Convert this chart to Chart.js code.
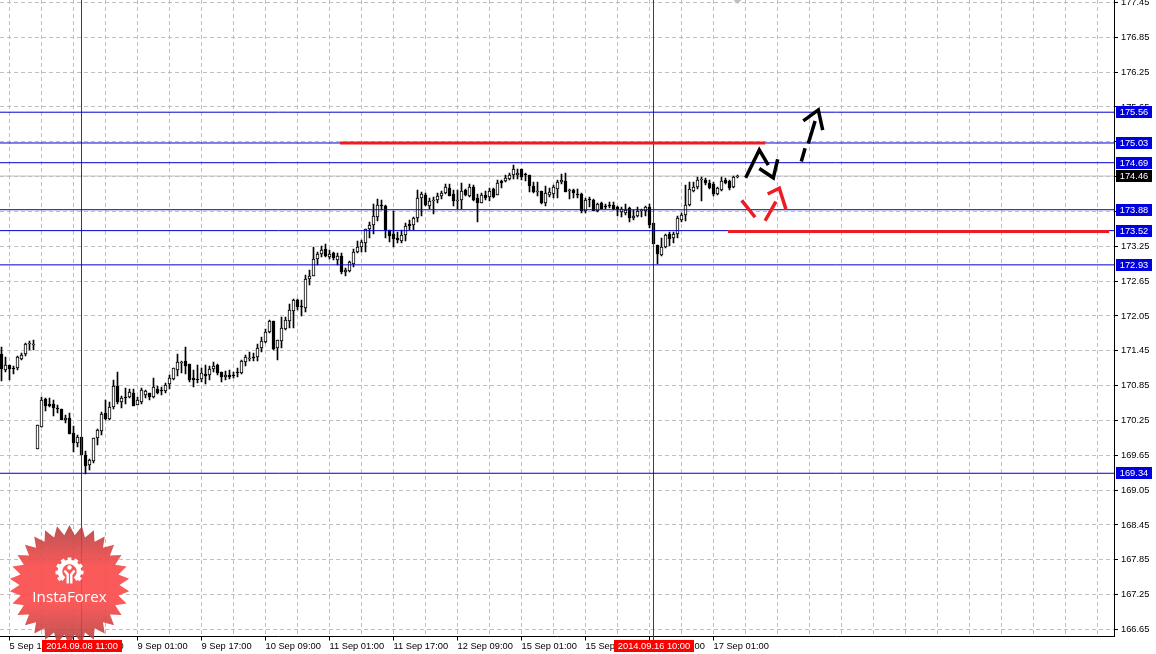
<!DOCTYPE html>
<html>
<head>
<meta charset="utf-8">
<title>GBP/JPY H1</title>
<script src="https://cdn.jsdelivr.net/npm/chart.js@4/dist/chart.umd.js"></script>
<style>
html, body { margin: 0; padding: 0; background: #fff; }
canvas { display: block; }
</style>
</head>
<body>
<canvas id="grafico" width="1156" height="654"></canvas>
<script>
// Hourly candles
const opens = [
171.40,171.12,171.21,171.16,171.15,171.31,171.39,171.57,171.56,169.75,
170.14,170.62,170.53,170.54,170.47,170.45,170.25,170.29,170.03,169.87,
169.97,169.66,169.49,169.55,169.94,170.06,170.37,170.28,170.48,170.84,
170.57,170.65,170.65,170.72,170.52,170.57,170.69,170.72,170.65,170.80,
170.77,170.76,170.87,170.96,171.12,171.25,171.27,171.22,170.98,170.96,
170.96,171.05,171.03,171.14,171.21,171.08,170.99,171.03,171.04,171.08,
171.06,171.26,171.31,171.35,171.35,171.50,171.60,171.78,171.96,171.50,
171.61,171.83,171.97,172.14,172.33,172.22,172.19,172.69,172.74,173.03,
173.12,173.20,173.07,173.13,173.02,173.08,172.80,172.83,172.95,173.15,
173.23,173.31,173.54,173.62,173.76,173.96,173.95,173.53,173.46,173.39,
173.34,173.45,173.63,173.62,173.74,174.08,174.14,173.95,174.04,174.05,
174.12,174.16,174.25,174.15,174.03,174.04,174.22,174.12,174.28,174.08,
174.00,174.13,174.10,174.23,174.14,174.37,174.37,174.41,174.47,174.47,
174.58,174.49,174.48,174.29,174.19,174.21,174.00,174.13,174.15,174.24,
174.35,174.37,174.21,174.22,174.15,174.15,173.86,174.06,174.05,173.86,
173.99,173.95,173.97,173.96,173.92,173.84,173.82,173.91,173.73,173.78,
173.86,173.86,173.92,173.65,173.28,173.10,173.23,173.46,173.40,173.46,
173.70,173.79,173.96,174.20,174.27,174.40,174.39,174.34,174.33,174.15,
174.22,174.39,174.37,174.27,174.44];
const highs = [
171.52,171.35,171.21,171.19,171.36,171.42,171.58,171.62,171.64,170.17,
170.65,170.63,170.63,170.60,170.52,170.45,170.34,170.38,170.15,170.00,
169.97,169.72,169.59,169.94,170.11,170.40,170.60,170.57,170.95,171.08,
170.67,170.81,170.80,170.80,170.66,170.81,170.77,170.72,170.98,170.84,
170.83,170.89,171.03,171.15,171.39,171.28,171.51,171.22,171.12,171.21,
171.15,171.21,171.18,171.25,171.23,171.08,171.11,171.12,171.09,171.16,
171.29,171.38,171.43,171.41,171.57,171.68,171.82,171.98,171.96,171.64,
172.04,172.04,172.26,172.35,172.34,172.33,172.76,172.84,173.23,173.16,
173.26,173.29,173.19,173.16,173.13,173.13,172.87,173.00,173.20,173.34,
173.35,173.54,173.67,173.98,174.06,174.05,173.96,173.53,173.85,173.50,
173.53,173.65,173.70,173.76,174.22,174.19,174.16,174.08,174.10,174.16,
174.21,174.32,174.32,174.22,174.22,174.34,174.24,174.32,174.31,174.15,
174.16,174.21,174.25,174.25,174.39,174.39,174.48,174.51,174.65,174.58,
174.58,174.52,174.48,174.36,174.36,174.21,174.29,174.25,174.31,174.39,
174.49,174.51,174.23,174.24,174.23,174.16,174.08,174.10,174.06,174.00,
174.02,173.98,174.01,174.01,173.94,173.92,173.98,173.92,173.88,173.92,
173.90,173.94,173.98,173.65,173.28,173.39,173.47,173.50,173.50,173.77,
173.82,174.31,174.36,174.36,174.44,174.45,174.43,174.39,174.36,174.28,
174.45,174.43,174.39,174.46,174.47];
const lows = [
170.93,171.09,170.95,171.05,171.12,171.29,171.36,171.47,171.46,169.75,
170.14,170.42,170.48,170.33,170.37,170.25,170.21,170.02,169.71,169.80,
169.66,169.32,169.40,169.52,169.83,170.00,170.26,170.26,170.44,170.54,
170.47,170.53,170.63,170.50,170.51,170.54,170.64,170.60,170.64,170.71,
170.69,170.73,170.80,170.94,171.02,171.06,171.05,170.91,170.83,170.89,
170.91,170.87,170.95,171.09,171.04,170.91,170.94,170.96,170.98,171.00,
171.05,171.19,171.27,171.27,171.28,171.43,171.58,171.75,171.46,171.29,
171.50,171.80,171.85,171.85,172.15,172.05,172.12,172.58,172.74,172.93,
173.06,173.06,173.03,173.01,172.93,172.77,172.74,172.81,172.90,173.14,
173.15,173.15,173.39,173.46,173.69,173.88,173.39,173.33,173.23,173.31,
173.31,173.34,173.53,173.53,173.67,173.78,173.94,173.90,173.81,174.00,
174.06,174.15,174.12,173.94,173.90,173.90,174.12,174.10,174.03,173.67,
173.99,174.05,174.03,174.08,174.13,174.25,174.36,174.39,174.41,174.41,
174.39,174.38,174.19,174.16,174.12,173.98,173.94,174.10,174.08,174.08,
174.32,174.18,174.07,174.08,174.08,173.82,173.82,173.93,173.85,173.84,
173.89,173.89,173.91,173.88,173.77,173.75,173.79,173.66,173.71,173.75,
173.76,173.77,173.56,173.29,172.94,173.08,173.22,173.25,173.31,173.39,
173.66,173.69,173.94,174.19,174.23,174.03,174.31,174.23,174.12,174.13,
174.21,174.32,174.22,174.26,174.43];
const closes = [
171.14,171.21,171.13,171.14,171.34,171.37,171.56,171.58,171.57,170.17,
170.60,170.50,170.50,170.47,170.44,170.25,170.29,170.02,169.87,169.97,
169.66,169.47,169.57,169.94,170.09,170.36,170.28,170.48,170.84,170.57,
170.63,170.63,170.74,170.50,170.60,170.77,170.75,170.65,170.82,170.73,
170.75,170.86,170.98,171.15,171.25,171.26,171.19,170.95,170.95,170.95,
171.06,171.02,171.13,171.18,171.07,171.00,171.03,171.00,171.02,171.06,
171.27,171.34,171.33,171.34,171.49,171.61,171.78,171.96,171.48,171.64,
171.84,171.98,172.15,172.33,172.21,172.20,172.69,172.74,173.03,173.12,
173.18,173.09,173.12,173.04,173.09,172.81,172.84,172.98,173.15,173.23,
173.32,173.54,173.61,173.77,173.96,173.94,173.53,173.43,173.37,173.35,
173.44,173.60,173.60,173.74,174.08,174.15,173.96,174.03,174.05,174.11,
174.16,174.27,174.12,174.03,174.04,174.21,174.13,174.27,174.05,173.99,
174.13,174.09,174.20,174.10,174.34,174.34,174.42,174.48,174.59,174.52,
174.45,174.47,174.29,174.19,174.20,173.99,174.17,174.19,174.27,174.36,
174.39,174.19,174.22,174.17,174.14,173.86,174.05,174.04,173.86,173.98,
173.90,173.92,173.94,173.89,173.88,173.89,173.88,173.73,173.77,173.86,
173.87,173.92,173.62,173.29,173.12,173.23,173.44,173.38,173.46,173.74,
173.79,173.97,174.23,174.27,174.40,174.41,174.34,174.26,174.15,174.25,
174.38,174.34,174.26,174.45,174.46];

// Price axis and time axis
const priceTicks = [177.45,176.85,176.25,175.65,175.05,174.45,173.85,173.25,172.65,172.05,171.45,170.85,170.25,169.65,169.05,168.45,167.85,167.25,166.65];
const timeLabels = ['5 Sep 17:00','8 Sep 09:00','9 Sep 01:00','9 Sep 17:00','10 Sep 09:00','11 Sep 01:00','11 Sep 17:00','12 Sep 09:00','15 Sep 01:00','15 Sep 17:00','16 Sep 09:00','17 Sep 01:00'];

// Horizontal levels
const blueLevels = [175.56,175.03,174.69,173.88,173.52,172.93,169.34];
const lastPrice = 174.46;

// Vertical crosshairs: candle number and its stamp
const crossCandles = [20,163];
const crossStamps = ['2014.09.08 11:00','2014.09.16 10:00'];

// Thick red levels: [from candle, to candle, price]
const redTop = [84.6,190.9,175.03];
const redBottom = [181.6,276.9,173.505];

// Hand drawn arrows, in candle number / price
const blackStrokes = [
  [[186.05,174.43],[189.45,174.91],[191.7,174.65]],
  [[189.45,174.59],[192.95,174.43],[194.05,174.75]],
  [[199.95,174.71],[200.9,174.94]],
  [[201.7,175.02],[203.4,175.41]],
  [[200.45,175.41],[204.2,175.60],[205.3,175.25]]
];
const redStrokes = [
  [[185.05,174.04],[188.4,173.75]],
  [[190.9,173.69],[193.6,174.02]],
  [[191.55,174.15],[194.45,174.25],[196.1,173.89]]
];

const FONTE = '9.3px "Liberation Sans"';
const AZUL = '#0000cd';
const AZUL_CAIXA = '#0000e0';
const VERMELHO = '#ed1c24';
const GRADE = '#c0c0c0';
const X_MIN = -0.375, X_MAX = 278.125;
const Y_MIN = 166.528, Y_MAX = 177.493;

function linha(pontos, cor, largura, extra) {
    return Object.assign({
        type: 'line',
        data: pontos.map(p => ({ x: p[0], y: p[1] })),
        borderColor: cor,
        borderWidth: largura,
        pointRadius: 0,
        tension: 0,
        fill: false,
        order: 1
    }, extra || {});
}

const datasets = [];

blackStrokes.forEach(s => datasets.push(linha(s, '#000', 3.5, { order: 0 })));
redStrokes.forEach(s => datasets.push(linha(s, VERMELHO, 3.5, { order: 0 })));
datasets.push(linha([[redTop[0], redTop[2]], [redTop[1], redTop[2]]], VERMELHO, 3, { order: 0 }));
datasets.push(linha([[redBottom[0], redBottom[2]], [redBottom[1], redBottom[2]]], VERMELHO, 3, { order: 0 }));
blueLevels.forEach(v => datasets.push(linha([[X_MIN, v], [X_MAX, v]], AZUL, 1)));
datasets.push(linha([[X_MIN, lastPrice], [X_MAX, lastPrice]], GRADE, 1, { order: 4 }));
crossCandles.forEach(c => datasets.push(linha([[c, Y_MAX], [c, 166.46]], '#d40000', 1, { clip: false })));

// wick and body of each candle
datasets.push({
    type: 'bar',
    data: opens.map((o, i) => ({ x: i, y: [lows[i], highs[i]] })),
    backgroundColor: '#000',
    borderWidth: 0,
    barThickness: 1,
    grouped: false,
    order: 3
});
datasets.push({
    type: 'bar',
    data: opens.map((o, i) => ({ x: i, y: [o, closes[i]] })),
    backgroundColor: opens.map((o, i) => closes[i] >= o ? '#fff' : '#000'),
    borderColor: '#000',
    borderWidth: 1,
    borderSkipped: false,
    barThickness: 3,
    grouped: false,
    order: 2
});

// MT4 draws on whole pixels
const pixelInteiro = {
    id: 'pixelInteiro',
    afterDatasetsUpdate(chart) {
        chart.data.datasets.forEach((ds, n) => {
            if (ds.type !== 'bar') return;
            chart.getDatasetMeta(n).data.forEach(el => {
                el.y = Math.round(el.y);
                el.base = Math.round(el.base);
                if (el.y === el.base) el.base = el.y + 1;
            });
        });
    }
};

function desenharSelo(ctx) {
    const cx = 69.5, cy = 585, rFora = 60, rDentro = 50, pontas = 30;
    ctx.save();
    const grad = ctx.createLinearGradient(0, cy - rFora, 0, cy + rFora);
    grad.addColorStop(0, 'rgba(178,60,60,0.88)');
    grad.addColorStop(0.35, 'rgba(250,72,72,0.9)');
    grad.addColorStop(0.65, 'rgba(250,72,72,0.9)');
    grad.addColorStop(1, 'rgba(178,60,60,0.88)');
    ctx.fillStyle = grad;
    ctx.beginPath();
    for (let i = 0; i < pontas * 2; i++) {
        const r = i % 2 === 0 ? rFora : rDentro;
        const a = i * Math.PI / pontas - Math.PI / 2;
        ctx.lineTo(cx + r * Math.cos(a), cy + r * Math.sin(a));
    }
    ctx.closePath();
    ctx.fill();

    // gear
    const gx = 69.5, gy = 571.5;
    ctx.strokeStyle = '#fff';
    ctx.fillStyle = '#fff';
    ctx.lineWidth = 4.5;
    ctx.beginPath();
    ctx.arc(gx, gy, 9.5, Math.PI * 0.7, Math.PI * 0.3);
    ctx.stroke();
    for (let i = 0; i < 9; i++) {
        const a = Math.PI * 0.8 + i * Math.PI * 1.4 / 8;
        ctx.save();
        ctx.translate(gx + 12 * Math.cos(a), gy + 12 * Math.sin(a));
        ctx.rotate(a);
        ctx.fillRect(-2, -1.9, 4, 3.8);
        ctx.restore();
    }
    ctx.beginPath();
    ctx.arc(gx, gy - 4, 2.2, 0, Math.PI * 2);
    ctx.fill();
    ctx.lineWidth = 2.4;
    ctx.beginPath();
    ctx.moveTo(gx - 5, gy - 1);
    ctx.lineTo(gx - 1.8, gy + 3);
    ctx.lineTo(gx - 1.8, gy + 12);
    ctx.moveTo(gx + 5, gy - 1);
    ctx.lineTo(gx + 1.8, gy + 3);
    ctx.lineTo(gx + 1.8, gy + 12);
    ctx.stroke();

    ctx.font = '15.2px "Open Sans"';
    ctx.textAlign = 'center';
    ctx.textBaseline = 'alphabetic';
    ctx.fillText('InstaForex', 69.5, 602);
    ctx.restore();
}

function caixa(ctx, x, y, w, h, cor, texto) {
    ctx.fillStyle = cor;
    ctx.fillRect(x, y, w, h);
    ctx.fillStyle = '#fff';
    ctx.font = FONTE;
    ctx.textAlign = 'center';
    ctx.textBaseline = 'middle';
    ctx.fillText(texto, x + w / 2, y + h / 2 + 0.5);
}

const extras = {
    id: 'extras',
    afterDraw(chart) {
        const ctx = chart.ctx;
        const escalaY = chart.scales.y, escalaX = chart.scales.x;
        desenharSelo(ctx);

        // little shift marker at the top
        ctx.fillStyle = GRADE;
        ctx.beginPath();
        ctx.moveTo(733.5, 0);
        ctx.lineTo(741.5, 0);
        ctx.lineTo(737.5, 4);
        ctx.closePath();
        ctx.fill();

        // price stamps
        blueLevels.forEach(v => {
            const y = Math.round(escalaY.getPixelForValue(v));
            caixa(ctx, 1116, y - 6, 36, 12, AZUL_CAIXA, v.toFixed(2));
        });
        const yUltimo = Math.round(escalaY.getPixelForValue(lastPrice));
        caixa(ctx, 1116, yUltimo - 6, 36, 12, '#000', lastPrice.toFixed(2));

        // time stamps
        crossCandles.forEach((c, i) => {
            const x = Math.round(escalaX.getPixelForValue(c));
            caixa(ctx, x - 40, 640, 80, 12, '#ff0000', crossStamps[i]);
        });
    }
};

new Chart(document.getElementById('grafico').getContext('2d'), {
    type: 'bar',
    data: { datasets },
    plugins: [pixelInteiro, extras],
    options: {
        responsive: false,
        animation: false,
        devicePixelRatio: 1,
        layout: { padding: 0 },
        plugins: { legend: { display: false }, tooltip: { enabled: false } },
        scales: {
            x: {
                type: 'linear',
                offset: false,
                min: X_MIN,
                max: X_MAX,
                afterBuildTicks(scale) {
                    const t = [];
                    for (let v = 2; v < X_MAX; v += 8) t.push({ value: v });
                    scale.ticks = t;
                },
                afterFit(scale) {
                    scale.height = 654 - 636.5;
                    scale.paddingLeft = 0;
                    scale.paddingRight = 0;
                },
                grid: {
                    offset: false,
                    color: GRADE,
                    lineWidth: 1,
                    tickLength: 4,
                    tickColor: c => (c.index % 2 === 0 && c.index / 2 < timeLabels.length) ? '#000' : 'rgba(0,0,0,0)',
                    tickBorderDash: []
                },
                border: { display: true, color: '#000', width: 1, dash: [4, 3] },
                ticks: {
                    autoSkip: false,
                    maxRotation: 0,
                    minRotation: 0,
                    align: 'start',
                    padding: 0,
                    color: '#000',
                    font: { family: 'Liberation Sans', size: 9.3 },
                    callback: (v, i) => (i % 2 === 0 && timeLabels[i / 2]) || ''
                }
            },
            y: {
                type: 'linear',
                position: 'right',
                min: Y_MIN,
                max: Y_MAX,
                beginAtZero: false,
                afterBuildTicks(scale) {
                    scale.ticks = priceTicks.map(v => ({ value: v }));
                },
                afterFit(scale) {
                    scale.width = 1156 - 1114;
                    scale.paddingTop = 0;
                    scale.paddingBottom = 0;
                },
                grid: {
                    color: GRADE,
                    lineWidth: 1,
                    tickLength: 4,
                    tickColor: '#000',
                    tickBorderDash: []
                },
                border: { display: true, color: '#000', width: 1, dash: [4, 3] },
                ticks: {
                    padding: 3,
                    color: '#000',
                    crossAlign: 'near',
                    font: { family: 'Liberation Sans', size: 9.3 },
                    callback: v => v.toFixed(2)
                }
            }
        }
    }
});
</script>
</body>
</html>
